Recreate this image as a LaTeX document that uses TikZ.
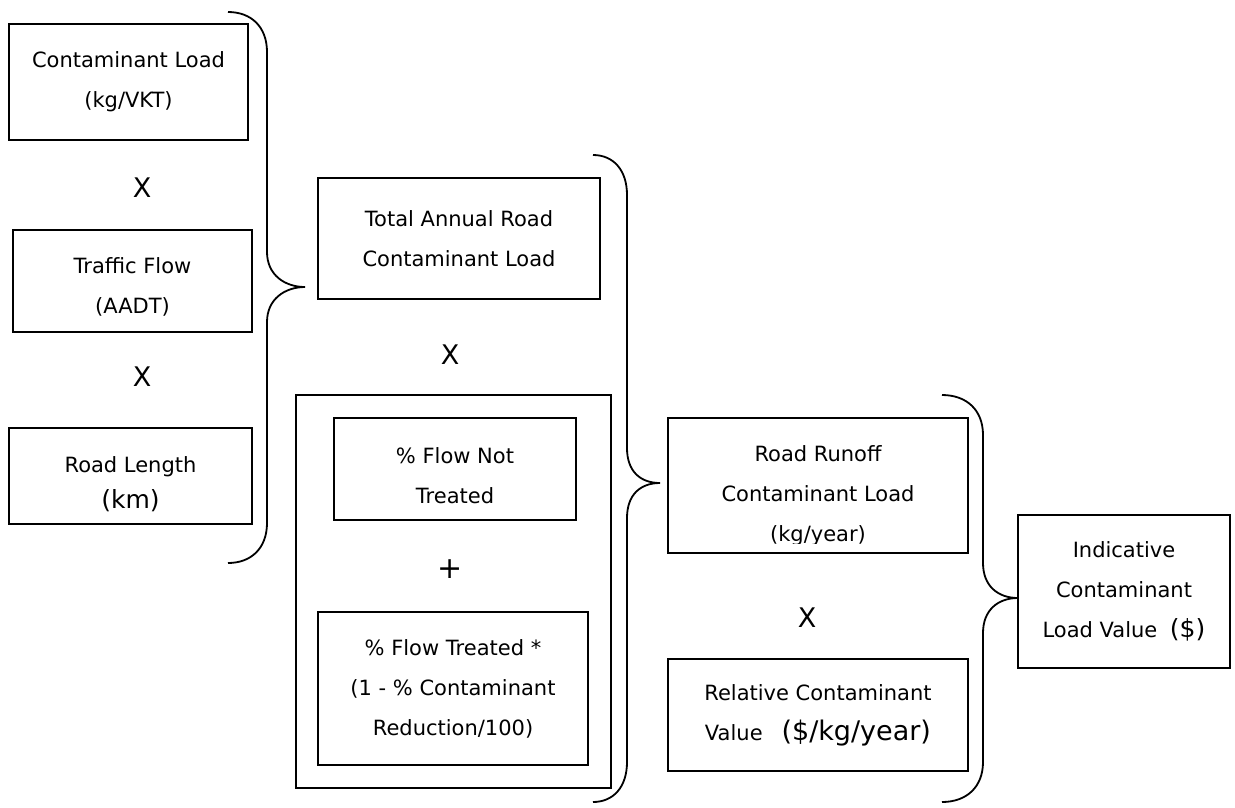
\documentclass[tikz,border=0pt]{standalone}
\usepackage{fontspec}
\setmainfont{DejaVu Sans}
\newcommand{\lrg}{\fontsize{27}{30}\selectfont}
% curly brace: end x, spine x, tip x, top y, tip y, bottom y
\newcommand{\drawbrace}[6]{%
  \draw[line width=1.8pt] (#1,#4) .. controls ({#1+0.6*(#2-#1)},#4) and (#2,{#4+15}) .. (#2,{#4+40})
    -- (#2,{#5-35}) .. controls (#2,{#5-12}) and ({#3-20},#5) .. (#3,#5)
    .. controls ({#3-20},#5) and (#2,{#5+12}) .. (#2,{#5+35})
    -- (#2,{#6-40}) .. controls (#2,{#6-15}) and ({#1+0.6*(#2-#1)},#6) .. (#1,#6);}

\begin{document}
\begin{tikzpicture}[x=1pt,y=-1pt,
  box/.style={draw,line width=1.8pt,align=center,inner sep=0pt,font=\fontsize{21}{40}\selectfont},
  op/.style={font=\lrg}]
\useasboundingbox (0,0) rectangle (1235,807);

% first group
\node[box,minimum width=239pt,minimum height=116pt] (load) at (128.5,82) {Contaminant Load\\(kg/VKT)};
\node[op] (times1) at (142,188) {X};
\node[box,minimum width=239pt,minimum height=102pt] (traffic) at (132.5,281) {\rule{0pt}{28pt}Traffic Flow\\(AADT)};
\node[op] (times2) at (142,377) {X};
\node[box,minimum width=243pt,minimum height=96pt] (length) at (130.5,476) {\rule{0pt}{32pt}Road Length\\[-4pt]{\fontsize{25}{30}\selectfont(km)}};
\drawbrace{228}{267}{305}{12}{287}{563}

% second group
\node[box,minimum width=282pt,minimum height=121pt] (total) at (459,238.5) {Total Annual Road\\Contaminant Load};
\node[op] (times3) at (450,355) {X};
\node[box,minimum width=315pt,minimum height=393pt] (flow) at (453.5,591.5) {};
\node[box,minimum width=242pt,minimum height=102pt] (nottreated) at (455,469) {\rule{0pt}{30pt}\% Flow Not\\Treated};
\node[font=\fontsize{30}{30}\selectfont] (plus) at (450,569) {+};
\node[box,minimum width=270pt,minimum height=153pt] (treated) at (453,688.5) {\% Flow Treated *\\(1 - \% Contaminant\\Reduction/100)};
\drawbrace{593}{627}{660}{155}{483}{802}

% third group
\node[box,minimum width=300pt,minimum height=135pt] (runoff) at (818,485.5) {};
\begin{scope}
  \clip (runoff.north west) rectangle ([yshift=10pt]runoff.south east);
  \node[box,draw=none,yshift=-10.5pt] (runofftext) at (runoff) {Road Runoff\\Contaminant Load\\(kg/year)};
\end{scope}
\node[op] (times4) at (807,618) {X};
\node[box,minimum width=300pt,minimum height=112pt] (relvalue) at (818,715) {Relative Contaminant\\Value\hspace{0.9em}{\lrg(\$/kg/year)}};
\drawbrace{942}{983}{1018}{395}{598}{802}

% result
\node[box,minimum width=212pt,minimum height=153pt] (indvalue) at (1124,591.5) {Indicative\\Contaminant\\Load Value\hspace{0.6em}{\fontsize{25}{30}\selectfont(\$)}};
\end{tikzpicture}
\end{document}
